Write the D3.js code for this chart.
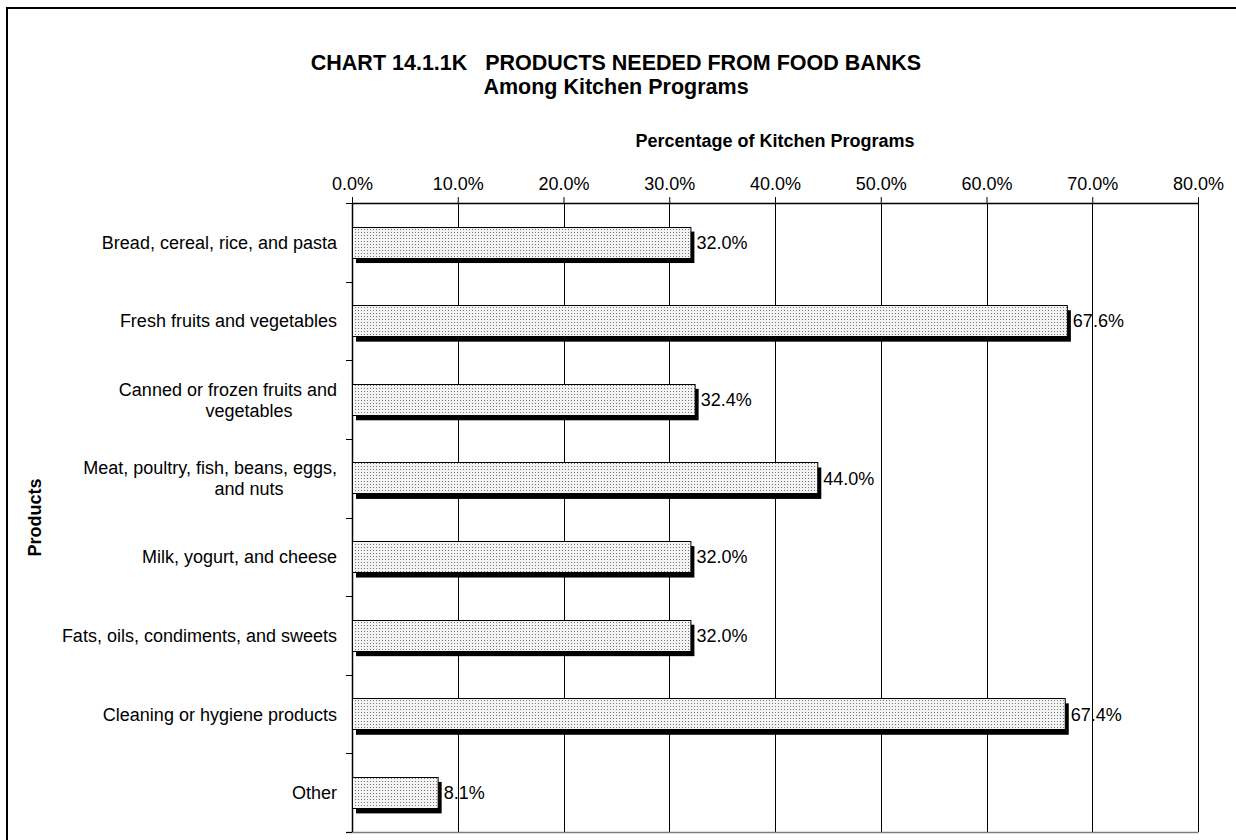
<!DOCTYPE html>
<html><head><meta charset="utf-8">
<script src="https://cdn.jsdelivr.net/npm/d3@7"></script>
<style>body{margin:0;background:#fff} text{font-family:"Liberation Sans",Arial,sans-serif;fill:#000}</style>
</head><body><svg id="c" width="1236" height="840"></svg>
<script>
const categories = [
  "Bread, cereal, rice, and pasta",
  "Fresh fruits and vegetables",
  "Canned or frozen fruits and vegetables",
  "Meat, poultry, fish, beans, eggs, and nuts",
  "Milk, yogurt, and cheese",
  "Fats, oils, condiments, and sweets",
  "Cleaning or hygiene products",
  "Other"
];
const values = [32.0, 67.6, 32.4, 44.0, 32.0, 32.0, 67.4, 8.1];
const tickValues = [0, 10, 20, 30, 40, 50, 60, 70, 80];
const titleLines = ["CHART 14.1.1K   PRODUCTS NEEDED FROM FOOD BANKS", "Among Kitchen Programs"];
const xTitle = "Percentage of Kitchen Programs";
const yTitle = "Products";

const svg = d3.select("#c");
const M = {left: 352, right: 1198, top: 203, bottom: 832};
const x = d3.scaleLinear().domain([0, 80]).range([M.left, M.right]);
const y = d3.scaleBand().domain(categories).range([M.top, M.bottom]).paddingInner(0.6).paddingOuter(0.3);

// pattern
const pat = svg.append("defs").append("pattern").attr("id", "dots")
  .attr("patternUnits", "userSpaceOnUse").attr("width", 3).attr("height", 3);
pat.append("rect").attr("width", 3).attr("height", 3).attr("fill", "#f3f3f3");
pat.append("rect").attr("x", 1).attr("y", 1).attr("width", 1).attr("height", 1).attr("fill", "#777");

// outer border
svg.append("path").attr("d", "M7,845V8H1240").attr("fill", "none").attr("stroke", "#000").attr("stroke-width", 2);

// titles
const tg = svg.append("g").attr("font-weight", "bold").attr("font-size", 21.5).attr("text-anchor", "middle");
tg.selectAll("text").data(titleLines).join("text")
  .attr("x", 616).attr("y", (d, i) => 70 + i * 24)
  .style("white-space", "pre").text(d => d);

svg.append("text").attr("x", (M.left + M.right) / 2).attr("y", 147)
  .attr("text-anchor", "middle").attr("font-weight", "bold").attr("font-size", 18).text(xTitle);

svg.append("text").attr("transform", `translate(41,${(M.top + M.bottom) / 2}) rotate(-90)`)
  .attr("text-anchor", "middle").attr("font-weight", "bold").attr("font-size", 18).text(yTitle);

// gridlines
const cx = v => Math.round(x(v)) + 0.5;
svg.append("g").selectAll("line").data(tickValues.slice(1)).join("line")
  .attr("x1", cx).attr("x2", cx).attr("y1", M.top).attr("y2", M.bottom)
  .attr("stroke", "#000").attr("stroke-width", 1);

// bottom line
svg.append("line").attr("x1", M.left - 6).attr("x2", M.right + 0.5)
  .attr("y1", M.bottom + 0.5).attr("y2", M.bottom + 0.5).attr("stroke", "#808080").attr("stroke-width", 1.5);

// top axis
const ax = svg.append("g").attr("transform", `translate(0,${M.top})`)
  .call(d3.axisTop(x).tickValues(tickValues).tickFormat(d => d.toFixed(1) + "%").tickSize(6).tickSizeOuter(0).tickPadding(7));
ax.select(".domain").attr("stroke", "#000").attr("stroke-width", 1.5);
ax.selectAll(".tick line").attr("stroke", "#000");
ax.selectAll(".tick text").attr("font-size", 18).attr("font-family", "Liberation Sans, Arial, sans-serif");

// left axis line + ticks at band boundaries
const half = (y.step() - y.bandwidth()) / 2;
const bounds = categories.map(c => y(c) - half).concat([M.bottom]);
svg.append("line").attr("x1", M.left + 0.5).attr("x2", M.left + 0.5).attr("y1", M.top).attr("y2", M.bottom)
  .attr("stroke", "#000").attr("stroke-width", 1.5);
svg.append("g").selectAll("line").data(bounds).join("line")
  .attr("x1", M.left - 6).attr("x2", M.left).attr("y1", d => Math.round(d) + 0.5).attr("y2", d => Math.round(d) + 0.5)
  .attr("stroke", "#000");

// bars
const bars = svg.append("g");
bars.selectAll("rect.sh").data(values).join("rect").attr("class", "sh")
  .attr("x", x(0) + 4).attr("y", (d, i) => y(categories[i]) + 5)
  .attr("width", d => x(d) - x(0)).attr("height", y.bandwidth()).attr("fill", "#000");
bars.selectAll("rect.b").data(values).join("rect").attr("class", "b")
  .attr("x", x(0) + 0.5).attr("y", (d, i) => Math.round(y(categories[i])) + 0.5)
  .attr("width", d => x(d) - x(0)).attr("height", Math.round(y.bandwidth()))
  .attr("fill", "url(#dots)").attr("stroke", "#000").attr("stroke-width", 1);

// value labels
svg.append("g").selectAll("text").data(values).join("text")
  .attr("x", d => x(d) + 6).attr("y", (d, i) => y(categories[i]) + y.bandwidth() / 2 + 6.5)
  .attr("font-size", 18).text(d => d.toFixed(1) + "%");

// category labels with wrapping
const labelRight = M.left - 15;
const measure = svg.append("text").attr("font-size", 18).attr("visibility", "hidden");
function wrap(str, maxW) {
  const words = str.split(" "); const lines = []; let cur = "";
  for (const w of words) {
    const t = cur ? cur + " " + w : w;
    measure.text(t);
    if (cur && measure.node().getComputedTextLength() > maxW) { lines.push(cur); cur = w; } else cur = t;
  }
  lines.push(cur); return lines;
}
const lg = svg.append("g").attr("font-size", 18);
categories.forEach((c, i) => {
  const lines = wrap(c, 280);
  const cy = y(c) + y.bandwidth() / 2;
  const lh = 21;
  lines.forEach((ln, j) => {
    const yy = cy + (j - (lines.length - 1) / 2) * lh + 6.5;
    lg.append("text").attr("x", j === 0 ? labelRight : labelRight - 88).attr("y", yy)
      .attr("text-anchor", j === 0 ? "end" : "middle").text(ln);
  });
});
measure.remove();
</script></body></html>
